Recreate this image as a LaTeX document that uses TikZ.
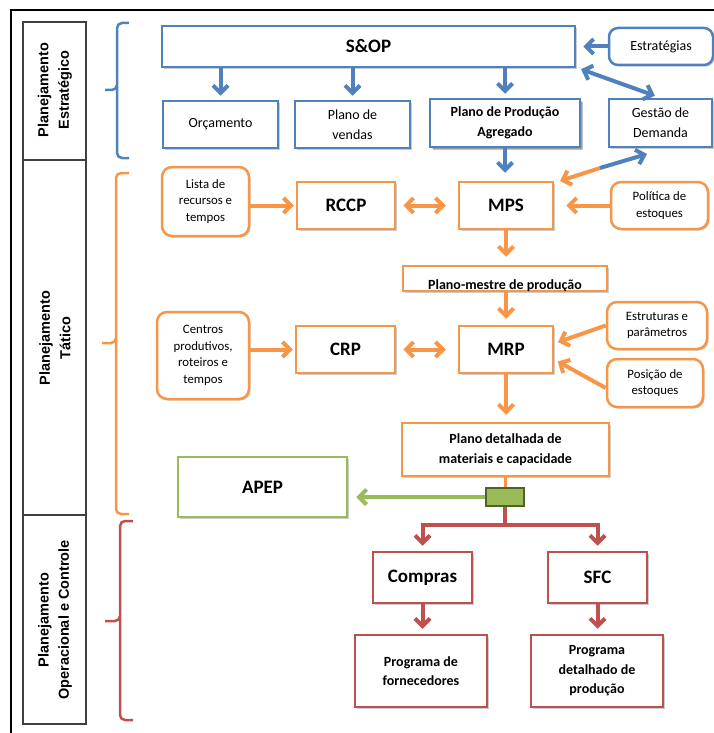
\documentclass[tikz,border=0pt]{standalone}
\usepackage{fontspec}
\setmainfont{Carlito}
\newfontfamily\sidefont{Liberation Sans}
\usetikzlibrary{arrows.meta,shadows}

\definecolor{cblue}{HTML}{4F81BD}
\definecolor{corange}{HTML}{F79646}
\definecolor{cred}{HTML}{C0504D}
\definecolor{cgreen}{HTML}{9BBB59}
\definecolor{cdkgreen}{HTML}{4F6228}
\definecolor{cframe}{HTML}{404040}

% font sizes
\newcommand{\fbig}{\bfseries\fontsize{19}{22}\selectfont}
\newcommand{\fmid}{\bfseries\fontsize{14}{19.5}\selectfont}
\newcommand{\freg}{\fontsize{14}{20}\selectfont}
\newcommand{\fsmall}{\fontsize{12.8}{16.5}\selectfont}
\newcommand{\fside}{\sidefont\bfseries\fontsize{14.5}{20.5}\selectfont}

\tikzset{
  boxshadow/.style={drop shadow={shadow xshift=1.6pt, shadow yshift=-1.6pt, opacity=0.28, fill=black!70}},
  basebox/.style={draw, fill=white, line width=2.5pt, inner sep=0pt, align=center, boxshadow},
  bluebox/.style={basebox, draw=cblue},
  bluerbox/.style={bluebox, rounded corners=9pt},
  orangebox/.style={basebox, draw=corange},
  orangerbox/.style={orangebox, rounded corners=10pt},
  redbox/.style={basebox, draw=cred},
  greenbox/.style={basebox, draw=cgreen},
  headtip/.tip={Straight Barb[length=7.5pt, width=15pt]},
  flow/.style={line width=4pt, -headtip},
  flow2/.style={line width=4pt, headtip-headtip},
  barrow/.style={flow, cblue},
  barrow2/.style={flow2, cblue},
  oarrow/.style={flow, corange},
  oarrow2/.style={flow2, corange},
  rarrow/.style={flow, cred},
  garrow/.style={flow, cgreen},
  brace/.style={line width=2.5pt, rounded corners=5pt},
}

\begin{document}
\begin{tikzpicture}[x=1pt,y=-1pt]
\useasboundingbox (0,0) rectangle (714,733);

% outer frame
\draw[line width=2pt, line cap=rect] (11,733) -- (11,10) -- (714,10);

% level column
\draw[cframe, line width=1.5pt] (23,22) rectangle (86,724);
\draw[cframe, line width=1.5pt] (23,160) -- (86,160);
\draw[cframe, line width=1.5pt] (23,515) -- (86,515);
\node[rotate=90, align=center, font=\fside] (lvs) at (55,90) {Planejamento\\Estratégico};
\node[rotate=90, align=center, font=\fside] (lvt) at (55,338) {Planejamento\\Tático};
\node[rotate=90, align=center, font=\fside] (lvo) at (55,620) {Planejamento\\Operacional e Controle};

% braces
\draw[brace, cblue] (129,23) -- (117,23) -- (117,90) -- (105,90);
\draw[brace, cblue] (117,86) -- (117,158) -- (129,158);
\draw[brace, corange] (129,173) -- (116,173) -- (116,343) -- (102,343);
\draw[brace, corange] (116,339) -- (116,514) -- (129,514);
\draw[brace, cred] (133,521) -- (120,521) -- (120,621) -- (105,621);
\draw[brace, cred] (120,617) -- (120,720) -- (133,720);

% strategic level
\node[bluebox, minimum width=413pt, minimum height=41pt, font=\fbig] (sop) at (368.5,46.5) {S\&OP};
\node[bluerbox, minimum width=104pt, minimum height=37pt, font=\freg] (est) at (661,46.5) {Estratégias};
\node[bluebox, minimum width=115pt, minimum height=47pt, font=\freg] (orc) at (220.5,124.5) {Orçamento};
\node[bluebox, minimum width=115pt, minimum height=47pt, font=\freg] (pv) at (352.5,124.5) {Plano de\\vendas};
\node[bluebox, minimum width=150pt, minimum height=48pt, font=\fmid, drop shadow={shadow xshift=3pt, shadow yshift=-3pt, opacity=0.35, fill=black!70}] (ppa) at (505,123) {Plano de Produção\\Agregado};
\node[bluebox, minimum width=103pt, minimum height=48pt, font=\freg] (gd) at (660.5,123) {Gestão de\\Demanda};

% tactical level
\node[orangerbox, minimum width=87pt, minimum height=69pt, font=\fsmall] (lista) at (205.5,201.5) {Lista de\\recursos e\\tempos};
\node[orangebox, minimum width=98pt, minimum height=47pt, font=\fbig] (rccp) at (346,205.5) {RCCP};
\node[orangebox, minimum width=94pt, minimum height=47pt, font=\fbig] (mps) at (506,205.5) {MPS};
\node[orangerbox, minimum width=97pt, minimum height=47pt, font=\fsmall] (pol) at (659.5,205.5) {Política de\\estoques};
\node[orangebox, minimum width=204pt, minimum height=25pt] (pm) at (505,278.5) {};
\begin{scope}
  \clip ([shift={(1.3pt,1.3pt)}]pm.south west) rectangle ([shift={(-1.3pt,-1.3pt)}]pm.north east);
  \node[font=\fmid, anchor=base, inner sep=0pt] (pmtext) at (505,289.5) {Plano-mestre de produção};
\end{scope}
\node[orangerbox, minimum width=92pt, minimum height=87pt, font=\fsmall] (cent) at (203,355.5) {Centros\\produtivos,\\roteiros e\\tempos};
\node[orangebox, minimum width=99pt, minimum height=47pt, font=\fbig] (crp) at (345.5,349.5) {CRP};
\node[orangebox, minimum width=94pt, minimum height=47pt, font=\fbig] (mrp) at (506,349.5) {MRP};
\node[orangerbox, minimum width=100pt, minimum height=47pt, font=\fsmall] (estr) at (657,325.5) {Estruturas e\\parâmetros};
\node[orangerbox, minimum width=96pt, minimum height=48pt, font=\fsmall] (pos) at (655,383) {Posição de\\estoques};
\node[orangebox, minimum width=207pt, minimum height=53pt, font=\fmid] (pd) at (505.5,449.5) {Plano detalhada de\\materiais e capacidade};
\node[greenbox, minimum width=169pt, minimum height=60pt, font=\fbig] (apep) at (262.5,487) {APEP};
\node[draw=cdkgreen, fill=cgreen, line width=2pt, minimum width=38pt, minimum height=18pt, inner sep=0pt] (jn) at (505,497) {};

% operational level
\node[redbox, minimum width=99pt, minimum height=51pt, font=\fbig] (cp) at (422.5,577.5) {Compras};
\node[redbox, minimum width=99pt, minimum height=51pt, font=\fbig] (sfc) at (597.5,577.5) {SFC};
\node[redbox, minimum width=132pt, minimum height=72pt, font=\fmid] (pf) at (421,671) {Programa de\\fornecedores};
\node[redbox, minimum width=132pt, minimum height=72pt, font=\fmid] (pdp) at (597,671) {Programa\\detalhado de\\produção};

% strategic flows
\draw[barrow, shorten >=4pt] (orc.north |- sop.south) -- (orc.north);
\draw[barrow, shorten >=4pt] (pv.north |- sop.south) -- (pv.north);
\draw[barrow, shorten >=4pt] (ppa.north |- sop.south) -- (ppa.north);
\draw[barrow, shorten >=7pt] (est.west) -- (est.west -| sop.east);
\draw[barrow2, shorten <=3pt, shorten >=6pt] ([xshift=2pt]sop.south east) -- (gd.north);
\draw[barrow, shorten >=8pt] (ppa.south) -- (ppa.south |- mps.north);

% demand management <-> MPS (two-coloured double arrow)
\coordinate (gmA) at (560,181);
\coordinate (gmM) at (600,168);
\coordinate (gmB) at (647,154);
\draw[line width=4pt, corange, -headtip] (gmM) -- (gmA);
\draw[line width=4pt, cblue, -headtip] (gmM) -- (gmB);

% tactical flows
\draw[oarrow, shorten >=2pt] (lista.east |- rccp.west) -- (rccp.west);
\draw[oarrow2, shorten <=7pt, shorten >=12pt] (rccp.east) -- (mps.west);
\draw[oarrow, shorten >=12pt] (pol.west) -- (mps.east);
\draw[oarrow, shorten >=8pt] (mps.south) -- (mps.south |- pm.north);
\draw[oarrow, shorten >=6pt] (mps.south |- pm.south) -- (mrp.north);
\draw[oarrow, shorten >=2pt] (cent.east |- crp.west) -- (crp.west);
\draw[oarrow2, shorten <=7pt, shorten >=12pt] (crp.east) -- (mrp.west);
\draw[oarrow, shorten >=4pt] (estr.west) -- ([yshift=6pt]mrp.east);
\draw[oarrow, shorten >=4pt] ([yshift=-5pt]pos.west) -- ([yshift=-10pt]mrp.east);
\draw[oarrow, shorten >=7pt] (mrp.south) -- (mrp.south |- pd.north);

% split towards APEP and execution
\draw[corange, line width=3pt] (pd.south -| jn.north) -- (jn.north);
\draw[garrow, shorten >=8pt] (jn.west) -- (jn.west -| apep.east);
\coordinate (split) at (505,525);
\draw[cred, line width=4pt] (jn.south) -- (split);
\draw[rarrow, shorten >=5pt] (split) -| (cp.north);
\draw[rarrow, shorten >=5pt] (split) -| (sfc.north);
\draw[rarrow, shorten >=5pt] (cp.south) -- (cp.south |- pf.north);
\draw[rarrow, shorten >=5pt] (sfc.south) -- (sfc.south |- pdp.north);
\end{tikzpicture}
\end{document}
